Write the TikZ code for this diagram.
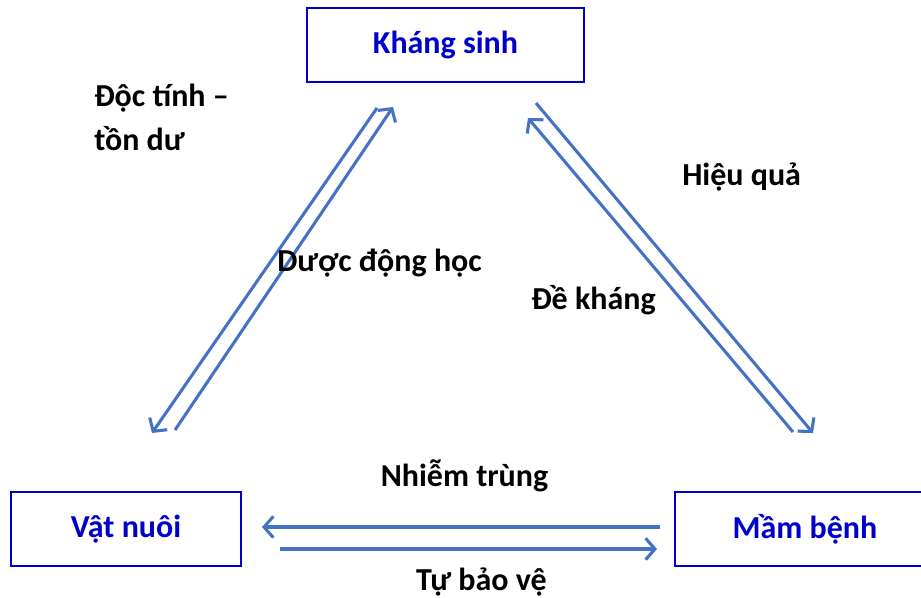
\documentclass[tikz,border=0pt]{standalone}
\usepackage{fontspec}
\setmainfont{Carlito}
\usetikzlibrary{arrows.meta}
\definecolor{boxblue}{RGB}{0,0,204}
\definecolor{arrblue}{RGB}{68,114,196}
\begin{document}
\begin{tikzpicture}[x=0.75pt,y=-0.75pt,
  box/.style={draw=boxblue,line width=1.5pt,minimum width=#1,inner sep=0pt,minimum height=55pt,
    text=boxblue,font=\fontsize{24}{28}\selectfont\bfseries},
  lbl/.style={font=\fontsize{24}{32.5}\selectfont\bfseries,text=black,inner sep=0pt},
  arr/.style={draw=arrblue,line width=2.3pt,-{Straight Barb[length=7pt,width=16pt,line width=2.3pt]}}]
\useasboundingbox (0,0) rectangle (921,598);
\node[box=207.75pt] (ks) at (445.5,45) {Kháng sinh};
\node[box=172.5pt] (vn) at (126,529) {Vật nuôi};
\begin{scope}
\clip (0,0) rectangle (921,598);
\node[box=195pt] (mb) at (805,529) {Mầm bệnh};
\end{scope}
% left diagonal
\coordinate (a1) at (175,430); \coordinate (a2) at (393,107);
\coordinate (b1) at (377,108); \coordinate (b2) at (152,433);
\draw[arr] (a1) -- (a2);
\draw[arr] (b1) -- (b2);
% right diagonal
\coordinate (c1) at (793,432); \coordinate (c2) at (528,118);
\coordinate (d1) at (536,103); \coordinate (d2) at (813,433);
\draw[arr] (c1) -- (c2);
\draw[arr] (d1) -- (d2);
% horizontal
\coordinate (e1) at (660,527); \coordinate (e2) at (262,527);
\coordinate (f1) at (280,549); \coordinate (f2) at (657,549);
\draw[arr] (e1) -- (e2);
\draw[arr] (f1) -- (f2);
% labels
\node[lbl,align=left,anchor=north west] (ldoc) at (94,84) {Độc tính –\\tồn dư};
\node[lbl,anchor=west] (lduoc) at (277,263) {Dược động học};
\node[lbl,anchor=west] (lhieu) at (682,177) {Hiệu quả};
\node[lbl,anchor=west] (lde) at (531,300) {Đề kháng};
\node[lbl] (lnhiem) at (464.5,476) {Nhiễm trùng};
\node[lbl] (ltu) at (481.5,582) {Tự bảo vệ};
\end{tikzpicture}
\end{document}
